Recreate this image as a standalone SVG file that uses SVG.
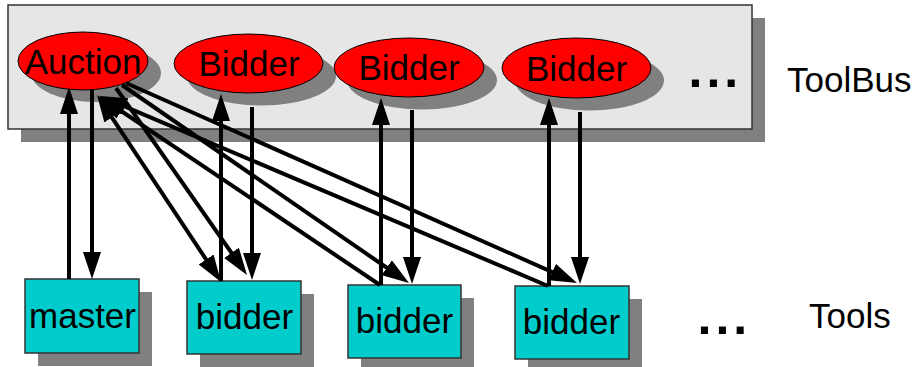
<svg xmlns="http://www.w3.org/2000/svg" width="920" height="367" viewBox="0 0 920 367">
<defs>
<marker id="ah" markerUnits="userSpaceOnUse" markerWidth="28" markerHeight="18" viewBox="0 0 28 18" refX="19" refY="9" orient="auto-start-reverse">
<path d="M0,0 L27,9 L0,18 z" fill="#000"/>
</marker>
<style>
.sh{fill:#808080}
.bus{fill:#e6e6e6;stroke:#333;stroke-width:1.5}
.proc{fill:#ff0000;stroke:#000;stroke-width:1}
.tool{fill:#00cccc;stroke:#333;stroke-width:1.5}
text{font-family:"Liberation Sans",Arial,sans-serif;font-size:35px;fill:#000}
.c{text-anchor:middle}
.dots{font-weight:bold;font-size:50px;letter-spacing:4px}
.cn line{stroke:#000;stroke-width:4;marker-end:url(#ah)}
</style>
</defs>
<g id="toolbus">
<rect class="sh" x="21" y="18" width="744" height="124"/>
<rect class="bus" x="8" y="5" width="744" height="124"/>
</g>
<g id="auction">
<ellipse class="sh" cx="96" cy="73" rx="65" ry="29"/>
<ellipse class="proc" cx="83" cy="61" rx="65" ry="29"/>
<text class="c" x="83" y="74">Auction</text>
</g>
<g id="Bidder1">
<ellipse class="sh" cx="261.5" cy="76" rx="74.5" ry="29.5"/>
<ellipse class="proc" cx="248.5" cy="63.5" rx="74.5" ry="29.5"/>
<text class="c" x="249" y="76">Bidder</text>
</g>
<g id="Bidder2">
<ellipse class="sh" cx="422" cy="80" rx="75" ry="29.5"/>
<ellipse class="proc" cx="409" cy="67.5" rx="75" ry="29.5"/>
<text class="c" x="409" y="80">Bidder</text>
</g>
<g id="Bidder3">
<ellipse class="sh" cx="589.5" cy="80.5" rx="74.5" ry="30"/>
<ellipse class="proc" cx="576.5" cy="68" rx="74.5" ry="30"/>
<text class="c" x="576.5" y="81">Bidder</text>
</g>
<g id="bus-dots"><text class="dots" x="688.5" y="87">...</text></g>
<g id="toolbus-label"><text x="787" y="92">ToolBus</text></g>
<g id="master">
<rect class="sh" x="38" y="292" width="114" height="74"/>
<rect class="tool" x="25" y="279" width="114" height="74"/>
<text class="c" x="82.5" y="328">master</text>
</g>
<g id="bidder1">
<rect class="sh" x="200" y="294" width="114" height="73"/>
<rect class="tool" x="187" y="281" width="114" height="73"/>
<text class="c" x="244.5" y="329">bidder</text>
</g>
<g id="bidder2">
<rect class="sh" x="361" y="298" width="113" height="73"/>
<rect class="tool" x="348" y="285" width="113" height="73"/>
<text class="c" x="404.5" y="333">bidder</text>
</g>
<g id="bidder3">
<rect class="sh" x="528" y="299" width="114" height="73"/>
<rect class="tool" x="515" y="286" width="114" height="73"/>
<text class="c" x="571.5" y="334">bidder</text>
</g>
<g id="tool-dots"><text class="dots" x="697.5" y="334">...</text></g>
<g id="tools-label"><text x="809" y="328">Tools</text></g>
<g id="connectors" class="cn">
<line x1="69" y1="279" x2="69" y2="95"/>
<line x1="92" y1="90" x2="92" y2="271"/>
<line x1="221" y1="281" x2="221" y2="102"/>
<line x1="252" y1="107" x2="252" y2="272"/>
<line x1="381" y1="285" x2="381" y2="106"/>
<line x1="412" y1="110" x2="412" y2="276"/>
<line x1="549" y1="286" x2="549" y2="106"/>
<line x1="580" y1="112" x2="580" y2="276"/>
<line x1="101.4" y1="101.7" x2="216.6" y2="275.3" style="marker-start:url(#ah)"/>
<line x1="116" y1="88" x2="242.4" y2="268.4"/>
<line x1="380" y1="285" x2="105.6" y2="100.5"/>
<line x1="122" y1="85" x2="402.4" y2="278.5"/>
<line x1="548" y1="286" x2="107.4" y2="99.1"/>
<line x1="126" y1="83" x2="569.7" y2="279.8"/>
</g>
</svg>
